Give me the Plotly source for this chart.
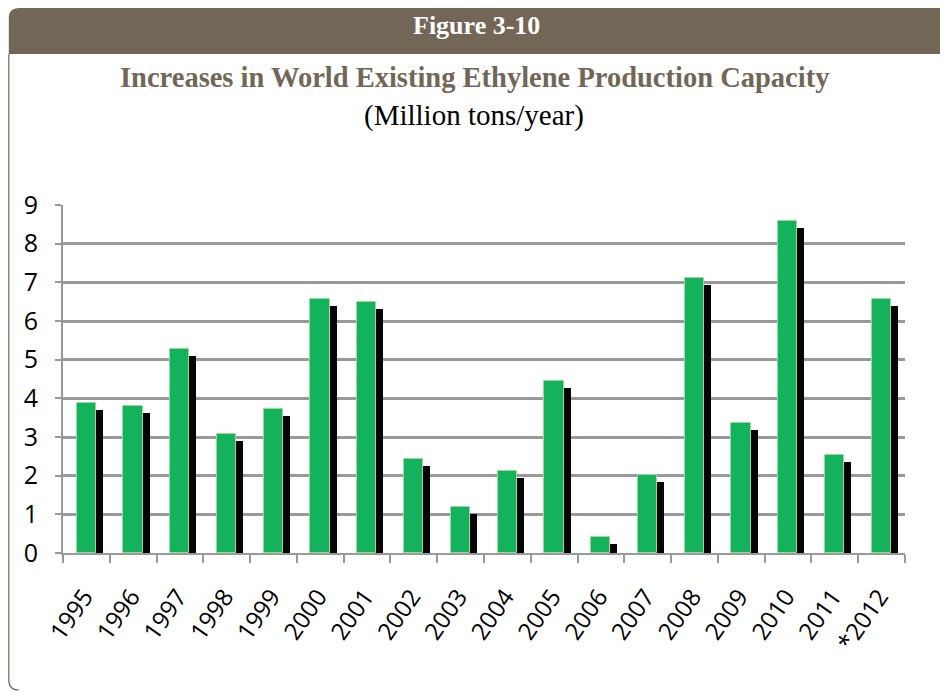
import plotly.graph_objects as go

# data
years = ["1995", "1996", "1997", "1998", "1999", "2000", "2001", "2002", "2003",
         "2004", "2005", "2006", "2007", "2008", "2009", "2010", "2011", "*2012"]
capacity = [3.88, 3.8, 5.27, 3.08, 3.72, 6.58, 6.5, 2.43, 1.2,
            2.12, 4.45, 0.42, 2.02, 7.1, 3.36, 8.58, 2.53, 6.58]

BROWN = "#726757"
GREEN = "#14b25c"

# the page body has an 8px margin, so the figure starts at page (8, 8)
OFF = 8
W, H = 940, 686
L, R, T, B = 55, 43, 197, 141
pw, ph = W - L - R, H - T - B


def px(x):
    # page pixel x -> paper coordinate
    return (x - OFF - L) / pw


def py(y):
    # page pixel y -> paper coordinate
    return (H - B - (y - OFF)) / ph


shadow = [v - 0.18 for v in capacity]

trace_shadow = go.Bar(
    x=years, y=shadow, width=0.42, offset=-0.07,
    marker=dict(color="#050505", line=dict(width=0)),
    hoverinfo="skip", showlegend=False,
)
trace_bar = go.Bar(
    x=years, y=capacity, width=0.41, offset=-0.21,
    marker=dict(color=GREEN, line=dict(color="#9bd99a", width=1)),
    showlegend=False,
)

# header bar + left frame
r = 10
lx = OFF + 0.8
header = (f"M {px(lx)},{py(54)} L {px(lx)},{py(8 + r)} Q {px(lx)},{py(8)} {px(lx + r)},{py(8)} "
          f"L {px(960)},{py(8)} L {px(960)},{py(54)} Z")
frame = f"M {px(lx)},{py(54)} L {px(lx)},{py(680)} Q {px(lx)},{py(690)} {px(lx + 10)},{py(690)}"

tick_font = dict(family="Open Sans, Lato, sans-serif", size=24, color="black")

layout = go.Layout(
    width=W, height=H,
    margin=dict(l=L, r=R, t=T, b=B),
    paper_bgcolor="white", plot_bgcolor="white",
    barmode="overlay",
    bargap=0,
    xaxis=dict(
        type="category",
        tickangle=-55,
        tickfont=tick_font,
        showline=True, linecolor="#999999", linewidth=2,
        ticks="outside", tickson="boundaries", ticklen=8, tickcolor="#999999", tickwidth=1.5,
        ticklabelstandoff=18, ticklabelshift=-2,
        showgrid=False, automargin=False,
    ),
    yaxis=dict(
        range=[0, 9], dtick=1,
        tickfont=dict(family="Open Sans, Lato, sans-serif", size=25, color="black"),
        showline=True, linecolor="#999999", linewidth=2,
        ticks="outside", ticklen=6, tickcolor="#999999", tickwidth=2,
        ticklabelstandoff=12,
        showgrid=True, gridcolor="#999999", gridwidth=2.5,
        zeroline=False, automargin=False,
    ),
    shapes=[
        dict(type="path", path=header, xref="paper", yref="paper",
             fillcolor=BROWN, line=dict(width=0), layer="below"),
        dict(type="path", path=frame, xref="paper", yref="paper",
             line=dict(color=BROWN, width=1.2), layer="below"),
    ],
    annotations=[
        dict(text="<b>Figure 3-10</b>", x=px(476), y=py(25), xref="paper", yref="paper",
             yanchor="middle", showarrow=False,
             font=dict(family="Liberation Serif, serif", size=26, color="white")),
        dict(text="<b>Increases in World Existing Ethylene Production Capacity</b>",
             x=px(474), y=py(77), xref="paper", yref="paper", yanchor="middle", showarrow=False,
             font=dict(family="Liberation Serif, serif", size=28.5, color=BROWN)),
        dict(text="(Million tons/year)", x=px(474), y=py(115), xref="paper", yref="paper",
             yanchor="middle", showarrow=False,
             font=dict(family="Liberation Serif, serif", size=29, color="black")),
    ],
)

fig = go.Figure(data=[trace_shadow, trace_bar], layout=layout)
fig.write_html("out.html")
